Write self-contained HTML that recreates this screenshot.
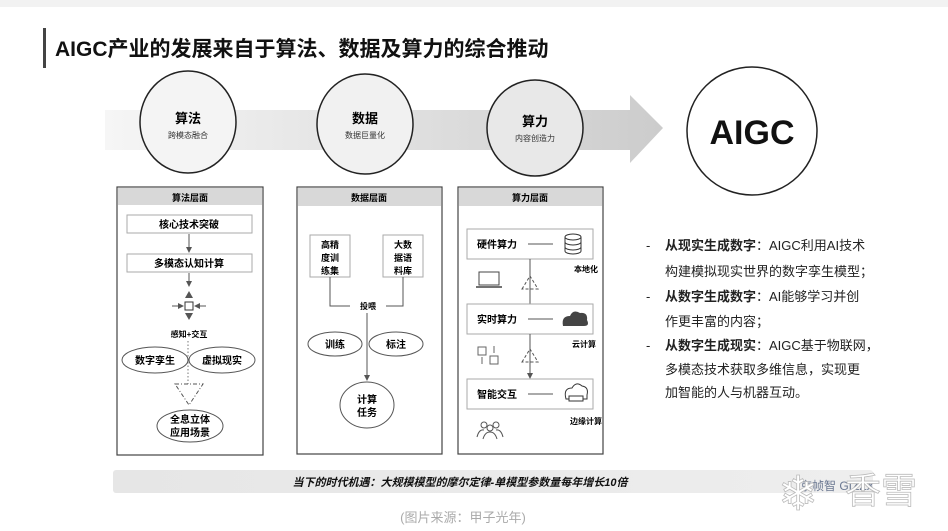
<!DOCTYPE html>
<html><head><meta charset="utf-8">
<style>
html,body{margin:0;padding:0;background:#fff;width:948px;height:531px;overflow:hidden}
svg{display:block}
text{font-family:"Liberation Sans","Noto Sans CJK SC",sans-serif}
</style></head><body>
<svg width="948" height="531" viewBox="0 0 948 531" xmlns="http://www.w3.org/2000/svg">
<defs>
<linearGradient id="band" x1="0" x2="1" y1="0" y2="0">
<stop offset="0" stop-color="#f6f6f6"/><stop offset="1" stop-color="#cccccc"/>
</linearGradient>
<linearGradient id="bar" x1="0" x2="1"><stop offset="0" stop-color="#e6e6e6"/><stop offset="1" stop-color="#eeeeee"/></linearGradient>
<marker id="ah" markerWidth="6" markerHeight="6" refX="3" refY="3" orient="auto"><path d="M0,0 L6,3 L0,6 z" fill="#555"/></marker>
</defs>
<rect x="0" y="0" width="948" height="7" fill="#f2f2f2"/>
<rect x="43" y="28" width="3" height="40" fill="#444"/>
<text x="55" y="56" font-size="21" font-weight="bold" fill="#111">AIGC产业的发展来自于算法、数据及算力的综合推动</text>

<path d="M105,110 L630,110 L630,95 L663,128 L630,163 L630,150 L105,150 Z" fill="url(#band)"/>
<ellipse cx="188" cy="122" rx="48" ry="51" fill="#f4f4f4" stroke="#222" stroke-width="1.5"/>
<text x="188" y="123" font-size="13" font-weight="bold" text-anchor="middle">算法</text>
<text x="188" y="138" font-size="8" text-anchor="middle" fill="#333">跨模态融合</text>
<ellipse cx="365" cy="124" rx="48" ry="50" fill="#f1f1f1" stroke="#222" stroke-width="1.5"/>
<text x="365" y="123" font-size="13" font-weight="bold" text-anchor="middle">数据</text>
<text x="365" y="138" font-size="8" text-anchor="middle" fill="#333">数据巨量化</text>
<ellipse cx="535" cy="128" rx="48" ry="48" fill="#e8e8e8" stroke="#222" stroke-width="1.5"/>
<text x="535" y="126" font-size="13" font-weight="bold" text-anchor="middle">算力</text>
<text x="535" y="141" font-size="8" text-anchor="middle" fill="#333">内容创造力</text>
<ellipse cx="752" cy="131" rx="65" ry="64" fill="#fff" stroke="#222" stroke-width="1.5"/>
<text x="752" y="144" font-size="34" font-weight="bold" text-anchor="middle" fill="#111">AIGC</text>

<rect x="117" y="187" width="146" height="268" fill="#fff" stroke="#444" stroke-width="1.2"/>
<rect x="118" y="188" width="144" height="17" fill="#d8d8d8"/>
<text x="190" y="201" font-size="9" font-weight="bold" text-anchor="middle">算法层面</text>
<rect x="127" y="215" width="125" height="18" fill="#fff" stroke="#aaa"/>
<text x="189" y="228" font-size="10" font-weight="bold" text-anchor="middle">核心技术突破</text>
<line x1="189" y1="234" x2="189" y2="250" stroke="#555" marker-end="url(#ah)"/>
<rect x="127" y="254" width="125" height="18" fill="#fff" stroke="#aaa"/>
<text x="189" y="267" font-size="10" font-weight="bold" text-anchor="middle">多模态认知计算</text>
<line x1="189" y1="273" x2="189" y2="284" stroke="#555" marker-end="url(#ah)"/>
<path d="M185,298 L189,291 L193,298 Z" fill="#555"/>
<rect x="185" y="302" width="8" height="8" fill="#fff" stroke="#333"/>
<line x1="172" y1="306" x2="181" y2="306" stroke="#555" marker-end="url(#ah)"/>
<line x1="206" y1="306" x2="197" y2="306" stroke="#555" marker-end="url(#ah)"/>
<path d="M185,313 L189,320 L193,313 Z" fill="#555"/>
<text x="189" y="337" font-size="8" font-weight="bold" text-anchor="middle">感知+交互</text>
<line x1="188" y1="341" x2="188" y2="384" stroke="#777" stroke-dasharray="1.5,2"/>
<ellipse cx="155" cy="360" rx="33" ry="13" fill="#fff" stroke="#555"/>
<text x="155" y="364" font-size="10" font-weight="bold" text-anchor="middle">数字孪生</text>
<ellipse cx="222" cy="360" rx="33" ry="13" fill="#fff" stroke="#555"/>
<text x="222" y="364" font-size="10" font-weight="bold" text-anchor="middle">虚拟现实</text>
<path d="M175,384 L203,384 L189,405 Z" fill="none" stroke="#555" stroke-dasharray="4,2,1,2"/>
<ellipse cx="190" cy="426" rx="33" ry="16" fill="#fff" stroke="#555"/>
<text x="190" y="423" font-size="10" font-weight="bold" text-anchor="middle">全息立体</text>
<text x="190" y="436" font-size="10" font-weight="bold" text-anchor="middle">应用场景</text>

<rect x="297" y="187" width="145" height="267" fill="#fff" stroke="#444" stroke-width="1.2"/>
<rect x="298" y="188" width="143" height="18" fill="#d8d8d8"/>
<text x="369" y="201" font-size="9" font-weight="bold" text-anchor="middle">数据层面</text>
<rect x="310" y="235" width="40" height="42" fill="#fff" stroke="#aaa"/>
<text x="330" y="248" font-size="9" font-weight="bold" text-anchor="middle">高精</text>
<text x="330" y="261" font-size="9" font-weight="bold" text-anchor="middle">度训</text>
<text x="330" y="274" font-size="9" font-weight="bold" text-anchor="middle">练集</text>
<rect x="383" y="235" width="40" height="42" fill="#fff" stroke="#aaa"/>
<text x="403" y="248" font-size="9" font-weight="bold" text-anchor="middle">大数</text>
<text x="403" y="261" font-size="9" font-weight="bold" text-anchor="middle">据语</text>
<text x="403" y="274" font-size="9" font-weight="bold" text-anchor="middle">料库</text>
<polyline points="330,277 330,306 350,306" fill="none" stroke="#555"/>
<polyline points="403,277 403,306 386,306" fill="none" stroke="#555"/>
<text x="368" y="309" font-size="8" font-weight="bold" text-anchor="middle">投喂</text>
<line x1="367" y1="313" x2="367" y2="378" stroke="#555" marker-end="url(#ah)"/>
<ellipse cx="335" cy="344" rx="27" ry="12" fill="#fff" stroke="#555"/>
<text x="335" y="348" font-size="10" font-weight="bold" text-anchor="middle">训练</text>
<ellipse cx="396" cy="344" rx="27" ry="12" fill="#fff" stroke="#555"/>
<text x="396" y="348" font-size="10" font-weight="bold" text-anchor="middle">标注</text>
<ellipse cx="367" cy="405" rx="27" ry="23" fill="#fff" stroke="#555"/>
<text x="367" y="403" font-size="10" font-weight="bold" text-anchor="middle">计算</text>
<text x="367" y="416" font-size="10" font-weight="bold" text-anchor="middle">任务</text>

<rect x="458" y="187" width="145" height="267" fill="#fff" stroke="#444" stroke-width="1.2"/>
<rect x="459" y="188" width="143" height="18" fill="#d8d8d8"/>
<text x="530" y="201" font-size="9" font-weight="bold" text-anchor="middle">算力层面</text>
<rect x="467" y="229" width="126" height="30" fill="#fff" stroke="#aaa"/>
<text x="477" y="248" font-size="10" font-weight="bold">硬件算力</text>
<line x1="528" y1="244" x2="553" y2="244" stroke="#555"/>
<g fill="none" stroke="#333"><ellipse cx="573" cy="237" rx="8" ry="3"/><path d="M565,237 V251 A8,3 0 0 0 581,251 V237 M565,242 A8,3 0 0 0 581,242 M565,247 A8,3 0 0 0 581,247"/></g>
<text x="586" y="272" font-size="8" font-weight="bold" text-anchor="middle">本地化</text>
<rect x="479" y="272" width="20" height="13" fill="none" stroke="#444"/><line x1="476" y1="287" x2="502" y2="287" stroke="#444" stroke-width="1.5"/>
<line x1="530" y1="259" x2="530" y2="304" stroke="#555"/>
<path d="M522,289 L530,276 L538,289 Z" fill="none" stroke="#555" stroke-dasharray="3,2"/>
<rect x="467" y="304" width="126" height="30" fill="#fff" stroke="#aaa"/>
<text x="477" y="323" font-size="10" font-weight="bold">实时算力</text>
<line x1="528" y1="319" x2="553" y2="319" stroke="#555"/>
<path d="M563,326 Q561,316 570,316 Q573,309 580,313 Q588,312 587,320 Q590,326 584,326 Z" fill="#444"/>
<text x="584" y="347" font-size="8" font-weight="bold" text-anchor="middle">云计算</text>
<rect x="478" y="347" width="8" height="8" fill="none" stroke="#666"/><rect x="490" y="356" width="8" height="8" fill="none" stroke="#666"/>
<line x1="482" y1="357" x2="482" y2="364" stroke="#666"/><line x1="494" y1="353" x2="494" y2="346" stroke="#666"/>
<line x1="530" y1="334" x2="530" y2="376" stroke="#555" marker-end="url(#ah)"/>
<path d="M522,362 L530,349 L538,362 Z" fill="none" stroke="#555" stroke-dasharray="3,2"/>
<rect x="467" y="379" width="126" height="30" fill="#fff" stroke="#aaa"/>
<text x="477" y="398" font-size="10" font-weight="bold">智能交互</text>
<line x1="528" y1="394" x2="553" y2="394" stroke="#555"/>
<path d="M566,399 Q563,388 572,388 Q576,381 582,386 Q589,387 587,395 L587,399 Z" fill="none" stroke="#333"/>
<rect x="569" y="396" width="14" height="5" fill="#fff" stroke="#333"/>
<text x="586" y="424" font-size="8" font-weight="bold" text-anchor="middle">边缘计算</text>
<g fill="none" stroke="#555"><circle cx="484" cy="425" r="3"/><circle cx="496" cy="425" r="3"/><circle cx="490" cy="428" r="3"/><path d="M477,437 Q479,429 484,430 M503,437 Q501,429 496,430 M483,439 Q485,432 490,432 Q495,432 497,439"/></g>

<g font-size="13" fill="#222">
<text x="646" y="250">-</text><text x="665" y="250"><tspan font-weight="bold">从现实生成数字</tspan>：AIGC利用AI技术</text>
<text x="665" y="276">构建模拟现实世界的数字孪生模型；</text>
<text x="646" y="301">-</text><text x="665" y="301"><tspan font-weight="bold">从数字生成数字</tspan>：AI能够学习并创</text>
<text x="665" y="326">作更丰富的内容；</text>
<text x="646" y="350">-</text><text x="665" y="350"><tspan font-weight="bold">从数字生成现实</tspan>：AIGC基于物联网，</text>
<text x="665" y="374">多模态技术获取多维信息，实现更</text>
<text x="665" y="397">加智能的人与机器互动。</text>
</g>

<rect x="113" y="470" width="760" height="23" rx="3" fill="url(#bar)"/>
<text x="460" y="486" font-size="11" font-weight="bold" font-style="italic" text-anchor="middle" fill="#111">当下的时代机遇：大规模模型的摩尔定律-单模型参数量每年增长10倍</text>
<text x="463" y="522" font-size="13" text-anchor="middle" fill="#aaa">(图片来源：甲子光年)</text>
<text x="800" y="490" font-size="12" fill="#4a5a7a" opacity="0.8">京帧智 GIZZX</text>
<text x="845" y="503" font-size="36" fill="#fff" stroke="#bbb" stroke-width="0.8">香雪</text>
<text x="778" y="510" font-size="48" fill="#fff" stroke="#bbb" stroke-width="0.8">❄</text>
</svg>
</body></html>
